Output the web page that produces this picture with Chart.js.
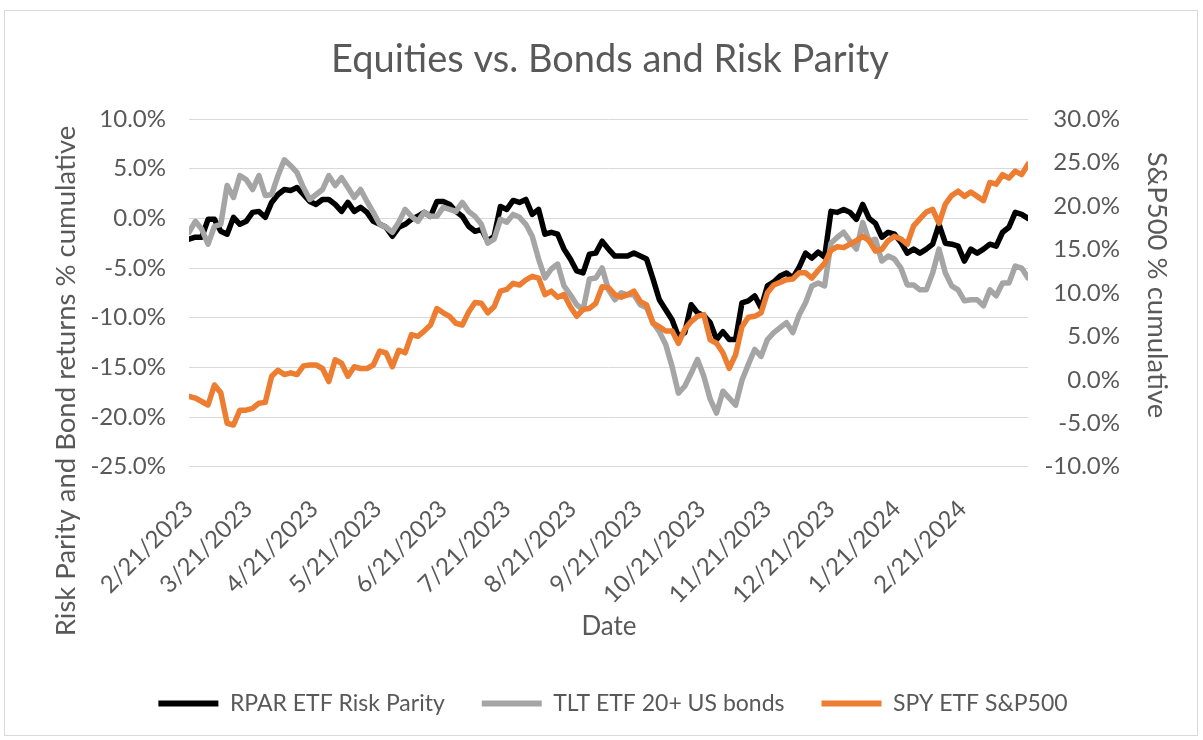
<!DOCTYPE html>
<html>
<head>
<meta charset="utf-8">
<title>Equities vs. Bonds and Risk Parity</title>
<script src="https://cdn.jsdelivr.net/npm/chart.js@4.4.0/dist/chart.umd.min.js"></script>
<style>
  html, body { margin: 0; padding: 0; background: #fff; }
  #wrap { position: relative; width: 1203px; height: 740px; }
</style>
</head>
<body>
<div id="wrap"><canvas id="chart" width="1203" height="740"></canvas></div>
<script>
// days since 2/21/2023 (read every 3 days off the picture)
const days = [0,3,6,9,12,15,18,21,24,27,30,33,36,39,42,45,48,51,54,57,60,63,66,69,72,75,78,81,84,87,
  90,93,96,99,102,105,108,111,114,117,120,123,126,129,132,135,138,141,144,147,150,153,156,159,162,165,168,171,174,177,
  180,183,186,189,192,195,198,201,204,207,210,213,216,219,222,225,228,231,234,237,240,243,246,249,252,255,258,261,264,267,
  270,273,276,279,282,285,288,291,294,297,300,303,306,309,312,315,318,321,324,327,330,333,336,339,342,345,348,351,354,357,
  360,363,366,369,372,375,378,381,384,387,390,393,396];

// RPAR ETF Risk Parity, % cumulative (left axis)
const rpar = [-2.1,-1.9,-1.9,-0.1,-0.1,-1.3,-1.6,0.1,-0.6,-0.3,0.6,0.7,0.1,1.6,2.4,2.9,2.8,3.1,2.4,1.7,
  1.4,1.9,1.9,1.4,0.7,1.6,0.7,1.1,0.6,-0.3,-0.6,-0.9,-1.8,-0.9,-0.6,-0.1,0.2,0.6,0.2,1.7,
  1.7,1.4,0.7,0.2,-0.8,-1.3,-1.1,-2.3,-1.8,1.2,0.9,1.8,1.6,1.9,0.4,0.9,-1.6,-1.4,-1.6,-3.1,
  -4.1,-5.3,-5.5,-3.6,-3.5,-2.3,-3.1,-3.8,-3.8,-3.8,-3.5,-3.8,-4.1,-6.1,-8.2,-9.2,-10.2,-11.9,-11.5,-8.7,
  -9.5,-9.8,-10.5,-12.2,-11.4,-12.2,-12.2,-8.5,-8.3,-7.8,-9.0,-6.8,-6.4,-5.8,-5.5,-6.0,-4.9,-3.5,-4.0,-3.4,
  -3.9,0.7,0.6,0.9,0.6,-0.1,1.4,0.0,-0.5,-1.9,-1.4,-1.6,-2.4,-3.5,-3.1,-3.5,-3.1,-2.6,-0.6,-2.5,
  -2.6,-2.8,-4.3,-3.1,-3.5,-3.1,-2.6,-2.8,-1.4,-0.9,0.6,0.4,0.0];

// TLT ETF 20+ US bonds, % cumulative (left axis)
const tlt = [-1.4,-0.3,-1.1,-2.6,-0.8,-0.6,3.3,2.1,4.3,3.9,2.9,4.3,2.3,2.4,4.3,5.9,5.3,4.6,3.1,1.9,
  2.4,2.9,4.3,3.3,4.1,3.1,2.1,2.9,1.7,0.6,-0.6,-0.9,-1.4,-0.4,0.9,0.2,-0.3,0.6,0.2,0.2,
  1.1,0.9,0.7,1.6,0.7,0.2,-0.6,-2.5,-2.1,-0.1,-0.4,0.4,0.1,-0.6,-1.8,-4.1,-6.0,-5.1,-4.6,-6.8,
  -7.7,-8.7,-9.2,-6.1,-6.0,-5.0,-7.2,-8.2,-7.5,-7.7,-7.7,-8.7,-9.0,-10.5,-11.4,-12.7,-14.9,-17.6,-16.9,-15.6,
  -14.2,-15.9,-18.2,-19.6,-17.4,-18.1,-18.8,-16.3,-14.7,-13.2,-13.9,-12.2,-11.5,-11.0,-10.5,-11.5,-9.7,-8.5,-6.8,-6.5,
  -6.8,-2.5,-1.9,-1.4,-2.3,-3.1,-0.4,-2.3,-2.1,-4.3,-3.8,-4.1,-5.0,-6.7,-6.7,-7.2,-7.2,-5.5,-3.1,-5.5,
  -6.8,-7.2,-8.3,-8.2,-8.2,-8.8,-7.2,-7.8,-6.5,-6.5,-4.8,-5.0,-6.0];

// SPY ETF S&P500, % cumulative (right axis)
const spy = [-1.9,-2.1,-2.5,-2.9,-0.6,-1.5,-5.0,-5.2,-3.5,-3.5,-3.3,-2.7,-2.6,0.4,1.1,0.6,0.8,0.6,1.6,1.7,
  1.7,1.3,-0.2,2.3,1.9,0.4,1.5,1.3,1.3,1.7,3.3,3.1,1.5,3.4,3.1,5.2,5.0,5.6,6.3,8.2,
  7.7,7.3,6.5,6.3,7.8,8.9,8.8,7.7,8.4,10.2,10.4,11.1,10.9,11.5,11.9,11.7,9.8,10.2,9.5,9.8,
  8.4,7.3,8.1,8.2,8.8,10.7,10.6,9.8,9.5,9.8,10.2,9.0,8.6,6.5,6.1,5.6,5.6,4.2,5.8,6.7,
  7.3,7.5,4.6,4.2,3.1,1.3,2.9,6.1,7.2,7.3,7.7,10.0,10.9,11.2,11.5,11.6,12.3,12.3,11.7,12.6,
  13.4,14.9,15.3,15.2,15.6,16.0,16.5,16.0,14.8,15.0,16.0,16.5,16.2,15.6,17.7,18.5,19.3,19.6,18.0,20.2,
  21.2,21.7,21.1,21.6,21.1,20.6,22.7,22.5,23.6,23.2,24.0,23.6,24.8];

const tickDays = [0,28,59,89,120,150,181,212,242,273,303,334,365];
const tickLabels = ['2/21/2023','3/21/2023','4/21/2023','5/21/2023','6/21/2023','7/21/2023','8/21/2023',
  '9/21/2023','10/21/2023','11/21/2023','12/21/2023','1/21/2024','2/21/2024'];

const chartTitle = 'Equities vs. Bonds and Risk Parity';
const xTitle = 'Date';
const yTitle = 'Risk Parity and Bond returns % cumulative';
const y1Title = 'S&P500 % cumulative';

const FONT = 'Lato, "Open Sans", sans-serif';
const TEXT = '#595959';

function series(values) {
    return days.map((d, i) => ({x: d, y: values[i]}));
}

const pct = v => v.toFixed(1) + '%';

// frame, title and axis titles
const texts = {
    id: 'texts',
    afterLayout(chart) {
        // legend sits a bit right of the canvas centre in the original
        chart.legend.left += 53;
        chart.legend.right += 53;
    },
    beforeDraw(chart) {
        const ctx = chart.ctx;
        ctx.save();
        ctx.fillStyle = '#fff';
        ctx.fillRect(0, 0, chart.width, chart.height);
        ctx.strokeStyle = '#D9D9D9';
        ctx.lineWidth = 1;
        ctx.strokeRect(4.5, 10.5, 1193, 725);
        ctx.restore();
    },
    afterDraw(chart) {
        const ctx = chart.ctx;
        ctx.save();
        ctx.fillStyle = TEXT;
        ctx.textAlign = 'center';
        ctx.textBaseline = 'middle';
        ctx.font = '38px ' + FONT;
        ctx.fillText(chartTitle, 610, 60);
        ctx.font = '26px ' + FONT;
        ctx.fillText(xTitle, 609, 627);

        ctx.font = '27.5px ' + FONT;
        ctx.save();
        ctx.translate(66, 381);
        ctx.rotate(-Math.PI / 2);
        ctx.fillText(yTitle, 0, 0);
        ctx.restore();

        ctx.save();
        ctx.translate(1157, 285);
        ctx.rotate(Math.PI / 2);
        ctx.fillText(y1Title, 0, 0);
        ctx.restore();
        ctx.restore();
    }
};

const common = {
    borderWidth: 5.5,
    pointRadius: 0,
    tension: 0,
    borderJoinStyle: 'round',
    borderCapStyle: 'round'
};

new Chart(document.getElementById('chart'), {
    type: 'line',
    plugins: [texts],
    data: {
        datasets: [
            Object.assign({label: 'RPAR ETF Risk Parity', data: series(rpar), borderColor: '#000000',
                backgroundColor: '#000000', yAxisID: 'y', order: 3}, common),
            Object.assign({label: 'TLT ETF 20+ US bonds', data: series(tlt), borderColor: '#A5A5A5',
                backgroundColor: '#A5A5A5', yAxisID: 'y', order: 2}, common),
            Object.assign({label: 'SPY ETF S&P500', data: series(spy), borderColor: '#ED7D31',
                backgroundColor: '#ED7D31', yAxisID: 'y1', order: 1}, common)
        ]
    },
    options: {
        responsive: false,
        animation: false,
        layout: {padding: {top: 119, left: 0, right: 83, bottom: 15}},
        plugins: {
            title: {display: false},
            tooltip: {enabled: false},
            legend: {
                position: 'bottom',
                labels: {
                    color: TEXT,
                    font: {family: FONT, size: 23},
                    boxWidth: 60,
                    boxHeight: 6,
                    padding: 37,
                    sort: (a, b) => a.datasetIndex - b.datasetIndex,
                    generateLabels(chart) {
                        const items = Chart.defaults.plugins.legend.labels.generateLabels(chart);
                        items.forEach(it => { it.lineWidth = 0; });
                        return items;
                    }
                }
            }
        },
        scales: {
            x: {
                type: 'linear',
                min: 0,
                max: 396,
                grid: {display: false},
                border: {display: false},
                afterBuildTicks: s => { s.ticks = tickDays.map(v => ({value: v})); },
                afterFit: s => { s.height = 188.3; },
                ticks: {
                    autoSkip: false,
                    minRotation: 45,
                    maxRotation: 45,
                    padding: 20,
                    color: TEXT,
                    font: {family: FONT, size: 24},
                    callback: v => tickLabels[tickDays.indexOf(v)] || ''
                }
            },
            y: {
                position: 'left',
                min: -25,
                max: 10,
                grid: {color: '#D9D9D9', lineWidth: 1, drawTicks: false},
                border: {display: false},
                afterFit: s => { s.width = 189; },
                ticks: {stepSize: 5, padding: 23, color: TEXT, font: {family: FONT, size: 24}, callback: pct}
            },
            y1: {
                position: 'right',
                min: -10,
                max: 30,
                grid: {display: false, drawTicks: false},
                border: {display: false},
                afterFit: s => { s.width = 92; },
                ticks: {stepSize: 5, padding: 20, crossAlign: 'far', color: TEXT,
                    font: {family: FONT, size: 24}, callback: pct}
            }
        }
    }
});
</script>
</body>
</html>
